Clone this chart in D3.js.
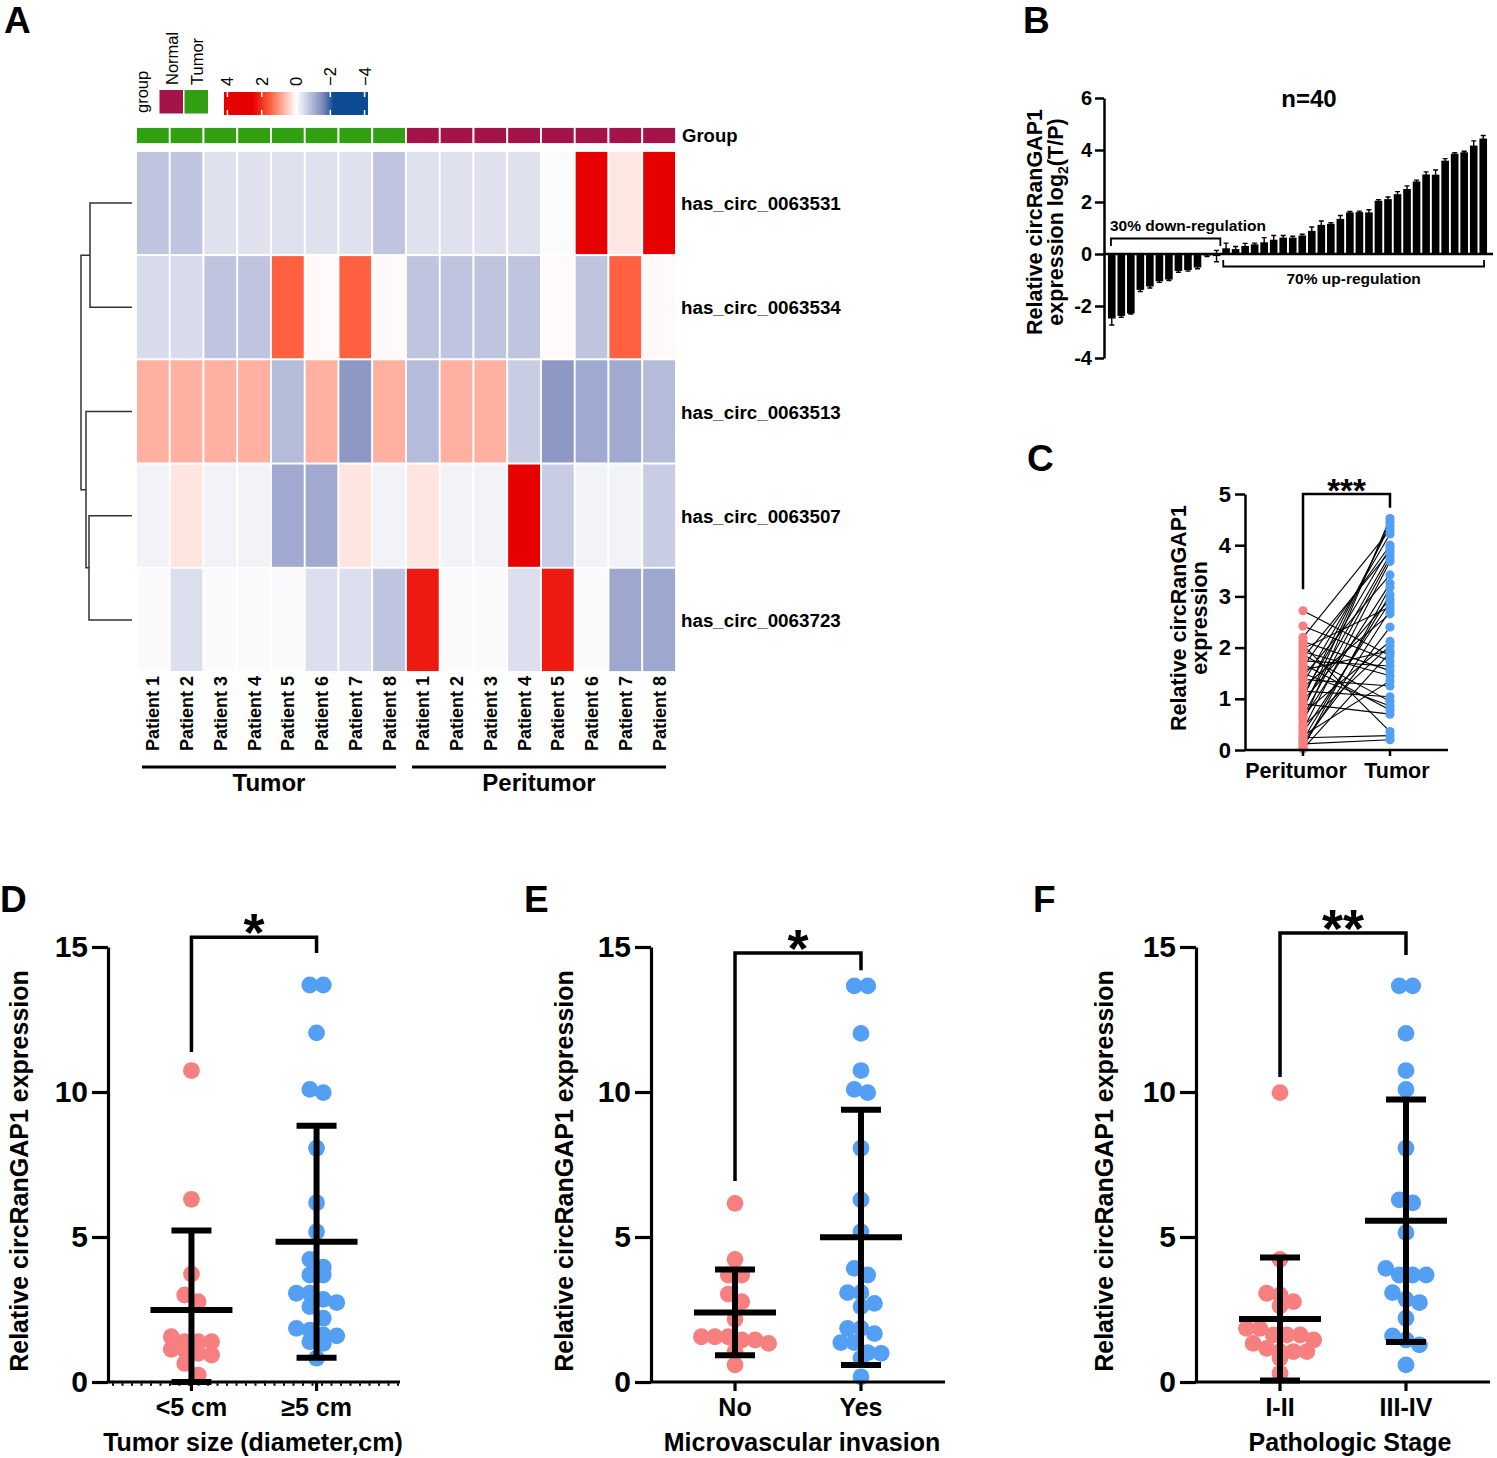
<!DOCTYPE html>
<html><head><meta charset="utf-8">
<script src="https://cdn.jsdelivr.net/npm/d3@7"></script>
<style>
body{margin:0;background:#fff}
svg{display:block}
text{font-family:"Liberation Sans",Arial,Helvetica,sans-serif}
</style>
</head><body>
<svg id="fig" width="1497" height="1458"></svg>
<script>
// ================= DATA =================
// Panel A heatmap
const heatRows = ["has_circ_0063531","has_circ_0063534","has_circ_0063513","has_circ_0063507","has_circ_0063723"];
const heatCols = ["Patient 1","Patient 2","Patient 3","Patient 4","Patient 5","Patient 6","Patient 7","Patient 8",
                  "Patient 1","Patient 2","Patient 3","Patient 4","Patient 5","Patient 6","Patient 7","Patient 8"];
const heatGroup = ["Tumor","Tumor","Tumor","Tumor","Tumor","Tumor","Tumor","Tumor",
                   "Normal","Normal","Normal","Normal","Normal","Normal","Normal","Normal"];
const heatValues = [
  [-0.77,-0.77,-0.39,-0.39,-0.39,-0.39,-0.39,-0.77, -0.39,-0.39,-0.39,-0.39,-0.05,3.2,0.22,3.2],
  [-0.47,-0.47,-0.77,-0.77,1.5,0.05,1.5,0.05, -0.77,-0.77,-0.77,-0.77,0.05,-0.77,1.5,0.05],
  [0.75,0.75,0.75,0.75,-0.89,0.75,-1.36,0.75, -0.89,0.75,0.75,-0.66,-1.36,-1.14,-1.14,-0.89],
  [-0.16,0.25,-0.16,-0.16,-1.14,-1.14,0.25,-0.16, 0.25,-0.16,-0.16,3.2,-0.66,-0.16,-0.16,-0.66],
  [-0.06,-0.42,-0.06,-0.06,-0.06,-0.42,-0.42,-0.77, 2.23,-0.06,-0.06,-0.42,2.23,-0.06,-1.17,-1.17]
];
const heatBottomGroups = ["Tumor","Peritumor"];
const heatLegendGroups = ["Normal","Tumor"];
const heatLegendTicks = [4,2,0,-2,-4];
// row dendrogram (merge heights)
const heatDendro = {h:5.1, children:[
  {h:4.2, children:[{leaf:0},{leaf:1}]},
  {h:4.6, children:[{leaf:2},{h:4.3, children:[{leaf:3},{leaf:4}]}]}
]};

// Panel B: log2(T/P) for 40 patients, with error
const bValues = [-2.48,-2.38,-2.28,-1.38,-1.25,-1.05,-0.98,-0.65,-0.62,-0.52,-0.06,-0.08,
  0.22,0.19,0.31,0.37,0.45,0.55,0.63,0.63,0.71,0.89,1.12,1.16,1.35,1.6,1.61,1.6,
  2.05,2.11,2.3,2.5,2.79,3.06,3.05,3.59,3.86,3.91,4.17,4.44];
const bErrors = [0.25,0.05,0.03,0.06,0.06,0.04,0.04,0.05,0.04,0.05,0.04,0.22,
  0.2,0.1,0.1,0.05,0.18,0.16,0.08,0.05,0.05,0.15,0.15,0.04,0.13,0.04,0.04,0.1,
  0.04,0.08,0.1,0.12,0.05,0.1,0.18,0.08,0.04,0.04,0.18,0.12];
const bTicks = [-4,-2,0,2,4,6];

// Panel C: paired expression
const cCats = ["Peritumor","Tumor"];
const cPeritumor = [2.72,2.42,2.2,2.12,2.05,1.98,1.92,1.86,1.8,1.74,1.68,1.62,1.56,1.5,1.44,1.38,1.3,1.22,1.15,1.08,
  1.02,0.96,0.9,0.84,0.78,0.72,0.66,0.6,0.52,0.46,0.4,0.34,0.28,0.24,0.2,0.16,0.12,0.08,0.04,0.02];
const cTumor = [1.84,1.74,4.3,1.55,0.36,2.8,1.45,0.95,3.88,1.64,0.78,4.0,1.94,0.86,3.42,1.25,4.22,2.66,1.04,3.95,
  4.38,2.95,0.7,3.82,4.45,2.12,3.75,3.25,4.52,2.04,3.68,2.88,1.35,0.28,3.03,2.4,0.2,2.73,3.18,1.9];
const cTicks = [0,1,2,3,4,5];

// Panels D/E/F
const scatterTicks = [0,5,10,15];
const dCats = ["<5 cm","\u22655 cm"];
const dLow = [10.74,6.3,3.72,3.0,2.77,1.39,1.39,1.39,1.56,1.13,0.93,0.99,1.1,0.64,0.24];
const dHigh = [13.69,13.69,12.04,10.09,9.98,8.06,6.18,5.18,4.23,3.96,3.69,3.69,3.06,3.06,2.85,2.6,2.74,2.2,1.59,1.79,1.62,1.39,1.33,1.85,0.82];
const dMeans = [2.48,4.84];
const dSDs = [2.74,4.0];

const eCats = ["No","Yes"];
const eNo = [6.16,4.23,3.69,3.69,3.03,2.77,2.16,1.56,1.56,1.56,1.33,1.45,1.45,1.05,0.59];
const eYes = [13.66,13.66,12.02,10.74,10.09,9.98,8.06,6.28,5.18,3.92,3.69,3.08,3.08,2.6,2.71,1.67,1.36,1.36,1.85,1.85,0.99,0.82,1.01,0.18];
const eMeans = [2.4,4.99];
const eSDs = [1.48,4.4];

const fCats = ["I-II","III-IV"];
const fEarly = [9.98,4.23,3.06,3.0,2.77,2.62,1.85,1.85,1.45,1.33,1.62,1.62,1.62,1.16,1.05,1.05,1.05,0.82,0.3];
const fLate = [13.66,13.66,12.02,10.74,10.09,8.06,6.18,6.28,5.15,3.92,3.69,3.69,3.69,3.08,2.85,2.74,2.2,1.59,1.45,1.28,0.59];
const fMeans = [2.17,5.56];
const fSDs = [2.12,4.18];

// ================= DRAWING =================
const svg = d3.select("#fig");
const PINK = "#f77f7f", BLUE = "#539ff3";

const letters = [["A",4,33],["B",1023,33],["C",1027,471],["D",0,912],["E",524,912],["F",1033,912]];
svg.selectAll("text.letter").data(letters).join("text").attr("class","letter")
  .attr("x",d=>d[1]).attr("y",d=>d[2]).text(d=>d[0])
  .attr("font-size",37).attr("font-weight","bold");

// ---------- Panel A ----------
const groupColor = d3.scaleOrdinal().domain(["Normal","Tumor"]).range(["#a5134b","#30a012"]);
const heatColor = d3.scaleLinear()
  .domain([-4,-2.2,-1.6,0,1.5,2.5,4])
  .range(["#0c4a93","#0c4a93","#7a86bb","#ffffff","#ff6040","#e60000","#e60000"])
  .clamp(true);
const hx = d3.scaleBand().domain(d3.range(heatCols.length)).range([136,676]);
const hy = d3.scaleBand().domain(heatRows).range([151,672]);
const gA = svg.append("g");

gA.selectAll("rect.ann").data(heatGroup).join("rect").attr("class","ann")
  .attr("x",(d,i)=>hx(i)).attr("y",127).attr("width",hx.bandwidth()).attr("height",17)
  .attr("fill",d=>groupColor(d)).attr("stroke","#fff").attr("stroke-width",1.8);
gA.append("text").attr("x",682).attr("y",142).text("Group")
  .attr("font-size",18.5).attr("font-weight","bold");

heatRows.forEach((r,ri)=>{
  gA.selectAll("rect.c"+ri).data(heatValues[ri]).join("rect").attr("class","c"+ri)
    .attr("x",(d,i)=>hx(i)).attr("y",hy(r)).attr("width",hx.bandwidth()).attr("height",hy.bandwidth())
    .attr("fill",d=>heatColor(d)).attr("stroke","#fff").attr("stroke-width",1.8);
});
gA.selectAll("text.rl").data(heatRows).join("text").attr("class","rl")
  .attr("x",681).attr("y",d=>hy(d)+hy.bandwidth()/2+7).text(d=>d)
  .attr("font-size",18.8).attr("font-weight","bold");
gA.selectAll("text.cl").data(heatCols).join("text").attr("class","cl")
  .attr("transform",(d,i)=>`translate(${hx(i)+hx.bandwidth()/2+6.5},676) rotate(-90)`)
  .attr("text-anchor","end").text(d=>d).attr("font-size",18).attr("font-weight","bold");
const half = [[0,7],[8,15]];
half.forEach((h,k)=>{
  const x0 = hx(h[0])+6, x1 = hx(h[1])+hx.bandwidth()-10;
  gA.append("line").attr("x1",x0).attr("x2",x1).attr("y1",767).attr("y2",767)
    .attr("stroke","#000").attr("stroke-width",3.2);
  gA.append("text").attr("x",(x0+x1)/2).attr("y",791).attr("text-anchor","middle")
    .text(heatBottomGroups[k]).attr("font-size",24).attr("font-weight","bold");
});
const dRoot = d3.hierarchy(heatDendro);
const dxScale = d3.scaleLinear().domain([0,5.1]).range([132,81]);
dRoot.eachAfter(n=>{
  n.py = n.children ? d3.mean(n.children,c=>c.py) : hy(heatRows[n.data.leaf])+hy.bandwidth()/2;
  n.px = dxScale(n.data.h||0);
});
gA.selectAll("path.dend").data(dRoot.descendants().filter(n=>n.children)).join("path").attr("class","dend")
  .attr("d",n=>{const [a,b]=n.children; return `M${a.px},${a.py}H${n.px}V${b.py}H${b.px}`;})
  .attr("fill","none").attr("stroke","#333").attr("stroke-width",1.5);

gA.append("text").attr("transform","translate(148,113) rotate(-90)").text("group").attr("font-size",16.5);
heatLegendGroups.forEach((g,i)=>{
  const x = 159.5 + i*25;
  gA.append("rect").attr("x",x).attr("y",90).attr("width",23.5).attr("height",23.5).attr("fill",groupColor(g));
  gA.append("text").attr("transform",`translate(${x+18},85) rotate(-90)`).text(g).attr("font-size",16.5);
});
const lx = d3.scaleLinear().domain([4.2,-4.2]).range([224,368]);
const defs = svg.append("defs");
const grad = defs.append("linearGradient").attr("id","hg").attr("x1","0%").attr("x2","100%");
d3.range(0,1.0001,0.02).forEach(t=>{
  grad.append("stop").attr("offset",(t*100)+"%").attr("stop-color",heatColor(lx.invert(224+t*144)));
});
gA.append("rect").attr("x",224).attr("y",92).attr("width",144).attr("height",23).attr("fill","url(#hg)");
heatLegendTicks.forEach(v=>{
  const x = lx(v);
  gA.append("line").attr("x1",x).attr("x2",x).attr("y1",92).attr("y2",97).attr("stroke","#fff").attr("stroke-width",1.5);
  gA.append("line").attr("x1",x).attr("x2",x).attr("y1",110).attr("y2",115).attr("stroke","#fff").attr("stroke-width",1.5);
  gA.append("text").attr("transform",`translate(${x+6},86) rotate(-90)`)
    .text(v<0 ? "\u2212"+Math.abs(v) : String(v)).attr("font-size",16.5);
});

// ---------- Panel B ----------
const gB = svg.append("g");
const bY = d3.scaleLinear().domain([-4,6]).range([358,98]);
const bX = d3.scaleBand().domain(d3.range(bValues.length)).range([1107,1488]).paddingInner(0.2).paddingOuter(0.1);
gB.selectAll("rect.bar").data(bValues).join("rect").attr("class","bar")
  .attr("x",(d,i)=>bX(i)).attr("width",bX.bandwidth())
  .attr("y",d=>bY(Math.max(0,d))).attr("height",d=>Math.abs(bY(d)-bY(0))).attr("fill","#000");
gB.selectAll("path.err").data(bValues).join("path").attr("class","err")
  .attr("d",(d,i)=>{const cx=bX(i)+bX.bandwidth()/2, e=bErrors[i], y1=bY(d+e), y2=bY(d-e);
    return `M${cx},${y1}V${y2}M${cx-2.5},${y1}H${cx+2.5}M${cx-2.5},${y2}H${cx+2.5}`;})
  .attr("stroke","#000").attr("stroke-width",1.4).attr("fill","none");
const bAx = gB.append("g").attr("transform","translate(1104,0)")
  .call(d3.axisLeft(bY).tickValues(bTicks).tickSize(9).tickSizeOuter(0).tickPadding(3).tickFormat(d=>String(d)));
bAx.select(".domain").attr("stroke-width",2.5);
bAx.selectAll(".tick line").attr("stroke-width",2.5);
bAx.selectAll(".tick text").attr("font-size",20).attr("font-weight","bold").attr("font-family",null);
gB.append("line").attr("x1",1104).attr("x2",1493).attr("y1",bY(0)).attr("y2",bY(0)).attr("stroke","#000").attr("stroke-width",2.5);
gB.append("text").attr("x",1309).attr("y",107).attr("text-anchor","middle").text("n=40").attr("font-size",24).attr("font-weight","bold");
const nDown = bValues.filter(v=>v<0).length;
const bxL = bX(0)+3, bxM = bX(nDown-1)+bX.bandwidth(), bxU = bX(nDown)+1, bxR = bX(bValues.length-1)+bX.bandwidth()-3;
gB.append("path").attr("d",`M${bxL},246V238.5H${bxM}V246`).attr("fill","none").attr("stroke","#000").attr("stroke-width",1.8);
gB.append("path").attr("d",`M${bxU},260V266.5H${bxR}V260`).attr("fill","none").attr("stroke","#000").attr("stroke-width",1.8);
gB.append("text").attr("x",1110).attr("y",231).text("30% down-regulation").attr("font-size",15.5).attr("font-weight","bold");
gB.append("text").attr("x",(bxU+bxR)/2).attr("y",284).attr("text-anchor","middle").text("70% up-regulation").attr("font-size",15.5).attr("font-weight","bold");
const bLab = gB.append("text").attr("transform","translate(0,222) rotate(-90)").attr("text-anchor","middle")
  .attr("font-size",21.5).attr("font-weight","bold");
bLab.append("tspan").attr("x",0).attr("y",1042).text("Relative circRanGAP1");
const bl2 = bLab.append("tspan").attr("x",0).attr("y",1063);
bl2.append("tspan").text("expression log");
bl2.append("tspan").attr("font-size",14).attr("dy",5).text("2");
bl2.append("tspan").attr("dy",-5).text("(T/P)");

// ---------- Panel C ----------
const gC = svg.append("g");
const cY = d3.scaleLinear().domain([0,5]).range([750,494]);
const cX = d3.scalePoint().domain(cCats).range([1245,1448]).padding(0.667);
gC.selectAll("line.pair").data(cPeritumor).join("line").attr("class","pair")
  .attr("x1",cX(cCats[0])).attr("y1",d=>cY(d)).attr("x2",cX(cCats[1])).attr("y2",(d,i)=>cY(cTumor[i]))
  .attr("stroke","#000").attr("stroke-width",1.1);
gC.selectAll("circle.pp").data(cPeritumor).join("circle").attr("class","pp")
  .attr("cx",cX(cCats[0])).attr("cy",d=>cY(d)).attr("r",4.6).attr("fill",PINK);
gC.selectAll("circle.tt").data(cTumor).join("circle").attr("class","tt")
  .attr("cx",cX(cCats[1])).attr("cy",d=>cY(d)).attr("r",4.6).attr("fill",BLUE);
const cAx = gC.append("g").attr("transform","translate(1245,0)")
  .call(d3.axisLeft(cY).tickValues(cTicks).tickSize(10).tickSizeOuter(0).tickPadding(4).tickFormat(d3.format("d")));
cAx.select(".domain").attr("stroke-width",2.5);
cAx.selectAll(".tick line").attr("stroke-width",2.5);
cAx.selectAll(".tick text").attr("font-size",22).attr("font-weight","bold").attr("font-family",null);
gC.append("line").attr("x1",1245).attr("x2",1448).attr("y1",750).attr("y2",750).attr("stroke","#000").attr("stroke-width",2.5);
cCats.forEach((c,i)=>{
  gC.append("line").attr("x1",cX(c)).attr("x2",cX(c)).attr("y1",750).attr("y2",756).attr("stroke","#000").attr("stroke-width",2.5);
  gC.append("text").attr("x",cX(c)+(i===0?-7:7)).attr("y",778).attr("text-anchor","middle").text(c).attr("font-size",21.5).attr("font-weight","bold");
});
gC.append("path").attr("d",`M${cX(cCats[0])},${cY(3.14)}V${cY(5)}H${cX(cCats[1])}V${cY(4.73)}`)
  .attr("fill","none").attr("stroke","#000").attr("stroke-width",2.5);
gC.append("text").attr("x",(cX(cCats[0])+cX(cCats[1]))/2).attr("y",502).attr("text-anchor","middle")
  .text("***").attr("font-size",33).attr("font-weight","bold");
const cLab = gC.append("text").attr("transform","translate(0,618) rotate(-90)").attr("text-anchor","middle")
  .attr("font-size",21.5).attr("font-weight","bold");
cLab.append("tspan").attr("x",0).attr("y",1186).text("Relative circRanGAP1");
cLab.append("tspan").attr("x",0).attr("y",1207).text("expression");

// ---------- Panels D/E/F ----------
function swarm(values, yS, xc, r){
  const pts = values.map(v=>({v, y:yS(v)})).sort((a,b)=>a.y-b.y);
  const rows=[]; let cur=null;
  pts.forEach(p=>{ if(cur && p.y-cur[0].y < 1.4*r) cur.push(p); else {cur=[p]; rows.push(cur);} });
  rows.forEach(row=>{ const n=row.length; row.forEach((p,i)=>{ p.x = xc + (i-(n-1)/2)*1.6*r; }); });
  return pts;
}
function scatterPanel(cfg){
  const g = svg.append("g");
  const y = d3.scaleLinear().domain([0,15]).range([1382,947]);
  const x = d3.scalePoint().domain(cfg.cats).range([cfg.ax, cfg.xEnd]).padding(0.667);
  const r = 8.4;
  cfg.groups.forEach((vals,gi)=>{
    const pts = swarm(vals, y, x(cfg.cats[gi]), r);
    g.selectAll("circle.g"+gi).data(pts).join("circle").attr("class","g"+gi)
      .attr("cx",d=>d.x).attr("cy",d=>d.y).attr("r",r).attr("fill",gi===0?PINK:BLUE);
  });
  cfg.cats.forEach((c,gi)=>{
    const cx = x(c), m = cfg.means[gi], s = cfg.sds[gi];
    const yTop = y(m+s), yBot = y(Math.max(0,m-s));
    g.append("line").attr("x1",cx).attr("x2",cx).attr("y1",yTop).attr("y2",yBot).attr("stroke","#000").attr("stroke-width",6);
    [yTop,yBot].forEach(yy=>g.append("line").attr("x1",cx-20).attr("x2",cx+20).attr("y1",yy).attr("y2",yy).attr("stroke","#000").attr("stroke-width",6));
    g.append("line").attr("x1",cx-41).attr("x2",cx+41).attr("y1",y(m)).attr("y2",y(m)).attr("stroke","#000").attr("stroke-width",6);
  });
  const ax = g.append("g").attr("transform",`translate(${cfg.ax},0)`)
    .call(d3.axisLeft(y).tickValues(scatterTicks).tickSize(16).tickSizeOuter(0).tickPadding(4));
  ax.select(".domain").attr("stroke-width",3.2);
  ax.selectAll(".tick line").attr("stroke-width",3.2);
  ax.selectAll(".tick text").attr("font-size",30).attr("font-weight","bold").attr("font-family",null);
  g.append("line").attr("x1",cfg.ax).attr("x2",cfg.xEnd).attr("y1",y(0)).attr("y2",y(0)).attr("stroke","#000").attr("stroke-width",3.2);
  if(cfg.dotted){
    g.append("line").attr("x1",cfg.ax+4).attr("x2",cfg.xEnd).attr("y1",y(0)+2.5).attr("y2",y(0)+2.5)
      .attr("stroke","#000").attr("stroke-width",2.5).attr("stroke-dasharray","2 7.5");
  }
  cfg.cats.forEach(c=>{
    g.append("line").attr("x1",x(c)).attr("x2",x(c)).attr("y1",y(0)).attr("y2",y(0)+9).attr("stroke","#000").attr("stroke-width",3.2);
    g.append("text").attr("x",x(c)).attr("y",1416).attr("text-anchor","middle").text(c).attr("font-size",25).attr("font-weight","bold");
  });
  g.append("text").attr("x",cfg.titleX).attr("y",1451).attr("text-anchor","middle").text(cfg.xTitle).attr("font-size",25).attr("font-weight","bold");
  g.append("text").attr("transform",`translate(${cfg.ylabX},1171) rotate(-90)`).attr("text-anchor","middle")
    .text("Relative circRanGAP1 expression").attr("font-size",25).attr("font-weight","bold");
  const [b0,bt,b1] = cfg.bracket;
  const xa = x(cfg.cats[0]), xb = x(cfg.cats[1]);
  g.append("path").attr("d",`M${xa},${y(b0)}V${y(bt)}H${xb}V${y(b1)}`).attr("fill","none").attr("stroke","#000").attr("stroke-width",3.5);
  g.append("text").attr("x",(xa+xb)/2).attr("y",y(bt)+14).attr("text-anchor","middle").text(cfg.sig)
    .attr("font-size",54).attr("font-weight","bold");
}
scatterPanel({ax:108, xEnd:400, cats:dCats, groups:[dLow,dHigh], means:dMeans, sds:dSDs,
  xTitle:"Tumor size (diameter,cm)", titleX:253, ylabX:28, bracket:[11.38,15.34,14.79], sig:"*", dotted:true});
scatterPanel({ax:651, xEnd:945, cats:eCats, groups:[eNo,eYes], means:eMeans, sds:eSDs,
  xTitle:"Microvascular invasion", titleX:802, ylabX:573, bracket:[6.93,14.79,14.2], sig:"*"});
scatterPanel({ax:1196, xEnd:1490, cats:fCats, groups:[fEarly,fLate], means:fMeans, sds:fSDs,
  xTitle:"Pathologic Stage", titleX:1350, ylabX:1113, bracket:[10.52,15.48,14.72], sig:"**"});
</script>
</body></html>
